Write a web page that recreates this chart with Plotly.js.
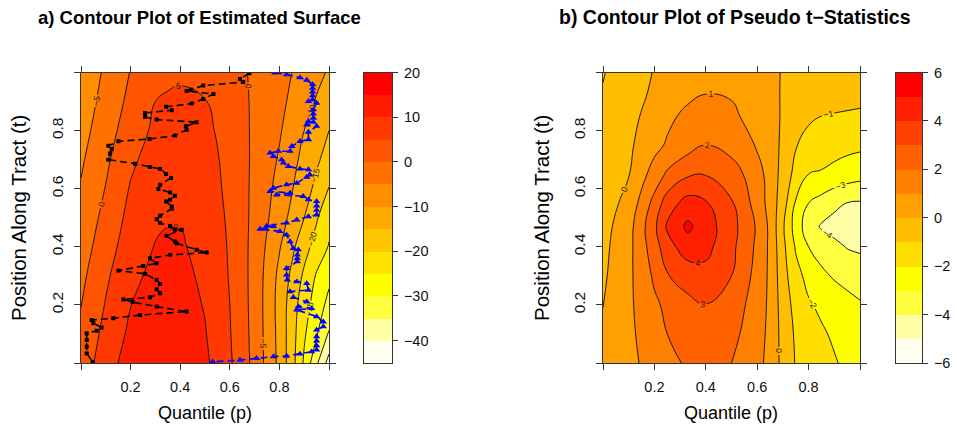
<!DOCTYPE html>
<html><head><meta charset="utf-8">
<script src="https://cdn.plot.ly/plotly-3.0.1.min.js"></script>
<style>html,body{margin:0;padding:0;background:#fff}#chart{width:957px;height:433px}</style>
</head><body><div id="chart"></div>
<script>
// ---------- Panel a) estimated surface ----------
const pA = [0, 0.1, 0.2, 0.3, 0.35, 0.4, 0.5, 0.6, 0.7, 0.8, 0.85, 0.9, 0.95, 1.0];
const tA = [0, 0.1, 0.2, 0.3, 0.4, 0.5, 0.6, 0.7, 0.8, 0.9, 1.0];
const zA = [
  [2.0, 7.8, 12.3, 14.3, 14.4, 13.8, 11.0, 5.7, -1.4, -11.3, -17.9, -25.8, -34.2, -42.0],
  [1.0, 6.5, 11.0, 13.1, 13.3, 12.9, 10.3, 5.3, -1.6, -11.5, -17.8, -24.3, -29.5, -35.5],
  [-0.1, 5.3, 9.9, 12.2, 12.5, 12.1, 9.7, 5.0, -1.7, -11.7, -17.4, -22.9, -27.3, -31.5],
  [-1.2, 4.2, 8.8, 11.2, 11.5, 11.3, 9.1, 4.7, -1.7, -11.2, -16.0, -20.9, -25.5, -28.8],
  [-2.4, 2.8, 7.6, 10.2, 10.6, 10.5, 8.6, 4.5, -1.6, -9.6, -13.8, -18.2, -22.0, -25.3],
  [-3.5, 1.5, 6.5, 9.2, 9.7, 9.7, 8.1, 4.2, -1.3, -7.7, -11.3, -15.0, -19.5, -23.6],
  [-4.6, 0.2, 5.4, 8.3, 8.9, 9.0, 7.5, 3.8, -1.1, -6.6, -9.7, -12.8, -16.3, -20.2],
  [-5.7, -0.9, 4.0, 7.3, 8.0, 8.2, 7.0, 3.5, -0.9, -5.5, -8.5, -11.4, -14.2, -17.0],
  [-6.9, -2.0, 2.4, 6.0, 6.9, 7.2, 6.2, 3.0, -0.8, -4.5, -7.2, -10.0, -12.5, -15.0],
  [-8.0, -3.1, 1.2, 5.0, 5.9, 6.2, 5.2, 2.4, -0.7, -3.9, -5.8, -8.1, -10.4, -12.2],
  [-9.0, -4.1, 0.2, 2.5, 3.4, 4.0, 3.3, 1.5, -0.6, -3.4, -5.0, -6.9, -8.7, -10.5]
];
const levelsA = [-45, -40, -35, -30, -25, -20, -15, -10, -5, 0, 5, 10, 15, 20];
const colorsA = ['#FFFFF0', '#FFFFA8', '#FFFF40', '#FFFF00', '#FFE300', '#FFC600', '#FFAA00',
                 '#FF8E00', '#FF7100', '#FF5500', '#FF3900', '#FF1C00', '#FF0000'];
const keyTicksA = [20, 10, 0, -10, -20, -30, -40];

// black path (squares) and blue path (triangles)
const blackP = [0.679, 0.641, 0.654, 0.493, 0.444, 0.426, 0.534, 0.493, 0.446, 0.343, 0.366, 0.258, 0.258, 0.305, 0.466, 0.423, 0.426, 0.379, 0.276, 0.151, 0.110, 0.124, 0.117, 0.110, 0.218, 0.278, 0.319, 0.343, 0.363, 0.319, 0.312, 0.359, 0.379, 0.359, 0.343, 0.366, 0.366, 0.319, 0.305, 0.319, 0.359, 0.379, 0.406, 0.345, 0.379, 0.386, 0.466, 0.507, 0.359, 0.278, 0.305, 0.251, 0.151, 0.258, 0.305, 0.319, 0.305, 0.319, 0.278, 0.171, 0.208, 0.305, 0.426, 0.238, 0.130, 0.043, 0.050, 0.083, 0.063, 0.023, 0.023, 0.023, 0.023, 0.047];
const blackT = [0.997, 0.978, 0.967, 0.955, 0.941, 0.936, 0.926, 0.909, 0.893, 0.882, 0.870, 0.861, 0.847, 0.838, 0.829, 0.815, 0.803, 0.783, 0.771, 0.763, 0.748, 0.737, 0.721, 0.700, 0.686, 0.675, 0.668, 0.651, 0.637, 0.614, 0.599, 0.587, 0.576, 0.562, 0.556, 0.539, 0.531, 0.507, 0.495, 0.482, 0.472, 0.459, 0.459, 0.438, 0.418, 0.412, 0.390, 0.380, 0.372, 0.360, 0.343, 0.334, 0.318, 0.307, 0.286, 0.272, 0.254, 0.240, 0.226, 0.219, 0.210, 0.194, 0.177, 0.165, 0.154, 0.148, 0.137, 0.122, 0.111, 0.102, 0.079, 0.056, 0.033, 0.004];
const blueP = [0.782, 0.829, 0.883, 0.910, 0.934, 0.934, 0.934, 0.934, 0.934, 0.917, 0.950, 0.937, 0.937, 0.937, 0.917, 0.937, 0.910, 0.950, 0.917, 0.917, 0.883, 0.850, 0.843, 0.796, 0.762, 0.776, 0.809, 0.816, 0.836, 0.883, 0.917, 0.923, 0.910, 0.870, 0.829, 0.776, 0.762, 0.843, 0.789, 0.896, 0.917, 0.950, 0.950, 0.950, 0.950, 0.917, 0.870, 0.829, 0.749, 0.776, 0.722, 0.802, 0.829, 0.843, 0.856, 0.876, 0.872, 0.872, 0.872, 0.829, 0.829, 0.832, 0.870, 0.910, 0.917, 0.843, 0.856, 0.910, 0.876, 0.930, 0.870, 0.950, 0.977, 0.977, 0.950, 0.950, 0.950, 0.950, 0.950, 0.930, 0.883, 0.829, 0.776, 0.708, 0.641, 0.531];
const blueT = [0.999, 0.993, 0.982, 0.974, 0.959, 0.946, 0.933, 0.920, 0.907, 0.901, 0.895, 0.872, 0.858, 0.843, 0.832, 0.829, 0.820, 0.815, 0.795, 0.769, 0.763, 0.746, 0.729, 0.729, 0.723, 0.711, 0.700, 0.689, 0.677, 0.668, 0.666, 0.648, 0.640, 0.619, 0.614, 0.602, 0.591, 0.585, 0.579, 0.574, 0.562, 0.556, 0.541, 0.526, 0.510, 0.504, 0.493, 0.482, 0.472, 0.470, 0.461, 0.453, 0.441, 0.418, 0.395, 0.390, 0.372, 0.360, 0.349, 0.326, 0.303, 0.286, 0.280, 0.274, 0.251, 0.246, 0.226, 0.211, 0.194, 0.188, 0.183, 0.160, 0.142, 0.125, 0.114, 0.091, 0.076, 0.060, 0.045, 0.039, 0.031, 0.024, 0.022, 0.016, 0.010, 0.004];

// ---------- Panel b) pseudo t-statistics ----------
const pB = [0, 0.1, 0.2, 0.25, 0.33, 0.4, 0.5, 0.6, 0.65, 0.7, 0.75, 0.8, 0.85, 0.9, 0.95, 1.0];
const tB = [0, 0.1, 0.2, 0.3, 0.4, 0.47, 0.55, 0.65, 0.75, 0.85, 0.93, 1.0];
const zB = [
  [0.35, 0.78, 1.33, 1.67, 2.15, 2.5, 2.0, 1.27, 0.71, -0.31, -1.06, -1.34, -1.63, -1.91, -2.2, -2.4],
  [0.2, 0.79, 1.57, 2.0, 2.5, 2.75, 2.3, 1.38, 0.77, -0.36, -1.14, -1.5, -1.86, -2.15, -2.45, -2.7],
  [-0.02, 0.8, 1.83, 2.2, 2.75, 2.98, 2.55, 1.53, 0.79, -0.46, -1.33, -1.89, -2.2, -2.45, -2.7, -2.9],
  [-0.15, 0.77, 2.16, 2.94, 3.4, 3.68, 3.0, 1.67, 0.8, -0.6, -1.67, -2.3, -2.8, -3.1, -3.3, -3.5],
  [-0.25, 0.7, 2.55, 3.6, 4.55, 4.3, 3.25, 1.8, 0.8, -0.74, -2.1, -3.0, -3.4, -3.75, -4.05, -4.15],
  [-0.35, 0.61, 2.77, 4.14, 5.2, 4.46, 3.36, 1.87, 0.78, -0.86, -2.43, -3.55, -4.1, -4.35, -4.6, -4.75],
  [-0.45, 0.29, 2.33, 3.5, 4.4, 4.1, 3.1, 1.6, 0.62, -0.55, -2.1, -3.0, -3.38, -3.77, -4.03, -4.1],
  [-0.6, -0.04, 1.42, 2.15, 2.85, 2.95, 2.45, 1.45, 0.55, -0.32, -1.33, -2.0, -2.1, -2.3, -2.5, -2.65],
  [-0.7, -0.17, 0.7, 1.12, 1.6, 2.0, 1.65, 0.9, 0.4, -0.17, -0.95, -1.25, -1.45, -1.6, -1.72, -1.8],
  [-0.8, -0.28, 0.37, 0.76, 1.25, 1.48, 1.2, 0.58, 0.26, -0.08, -0.5, -0.88, -1.0, -1.04, -1.07, -1.1],
  [-0.95, -0.4, 0.15, 0.4, 0.75, 0.97, 0.9, 0.5, 0.22, -0.07, -0.35, -0.55, -0.66, -0.73, -0.77, -0.8],
  [-1.05, -0.5, 0.05, 0.3, 0.55, 0.72, 0.7, 0.4, 0.18, -0.05, -0.28, -0.45, -0.55, -0.6, -0.63, -0.65]
];
const levelsB = [-6, -5, -4, -3, -2, -1, 0, 1, 2, 3, 4, 5, 6];
const colorsB = ['#FFFFF0', '#FFFFA8', '#FFFF40', '#FFFF00', '#FFDF00', '#FFBF00',
                 '#FF9F00', '#FF8000', '#FF6000', '#FF4000', '#FF2000', '#FF0000'];
const keyTicksB = [6, 4, 2, 0, -2, -4, -6];

const axisTickVals = [0, 0.2, 0.4, 0.6, 0.8, 1.0];
const axisTickText = ['', '0.2', '0.4', '0.6', '0.8', ''];

const titleA = 'a) Contour Plot of Estimated Surface';
const titleB = 'b) Contour Plot of Pseudo t\u2212Statistics';
const xLabel = 'Quantile (p)';
const yLabel = 'Position Along Tract (t)';

// ---------- helpers ----------
const FONT = 'Liberation Sans, Arial, Helvetica, sans-serif';
const W = 957, H = 433;
const fx = v => v / W;
const fy = v => 1 - v / H;

function discreteScale(colors) {
  const n = colors.length, out = [];
  colors.forEach((c, i) => { out.push([i / n, c]); out.push([(i + 1) / n, c]); });
  return out;
}
function mids(levels) {
  const m = [];
  for (let i = 0; i < levels.length - 1; i++) m.push([(levels[i] + levels[i + 1]) / 2]);
  return m;
}
function contourTrace(x, y, z, levels, colors, xa, ya) {
  return {
    type: 'contour', x: x, y: y, z: z, xaxis: xa, yaxis: ya,
    autocontour: false,
    contours: { start: levels[1], end: levels[levels.length - 1], size: levels[1] - levels[0],
      coloring: 'fill', showlines: true, showlabels: true,
      labelfont: { size: 8.5, color: '#222', family: FONT } },
    line: { color: '#1a1a1a', width: 1, smoothing: 1.3 },
    colorscale: discreteScale(colors), showscale: false, hoverinfo: 'skip'
  };
}
function keyTrace(levels, colors, xa, ya) {
  return {
    type: 'heatmap', x: [0, 1], y: levels, z: mids(levels), xaxis: xa, yaxis: ya,
    zmin: levels[0], zmax: levels[levels.length - 1],
    colorscale: discreteScale(colors), showscale: false, hoverinfo: 'skip'
  };
}

const data = [
  contourTrace(pA, tA, zA, levelsA, colorsA, 'x', 'y'),
  { type: 'scatter', x: blackP, y: blackT, xaxis: 'x', yaxis: 'y', mode: 'lines+markers',
    line: { color: '#000', width: 1.6, dash: '7px,4px' },
    marker: { symbol: 'square', size: 4, color: '#000' }, hoverinfo: 'skip', cliponaxis: true },
  { type: 'scatter', x: blueP, y: blueT, xaxis: 'x', yaxis: 'y', mode: 'lines+markers',
    line: { color: '#0000FF', width: 1.6, dash: '7px,4px' },
    marker: { symbol: 'triangle-up', size: 6.5, color: '#0000FF' }, hoverinfo: 'skip', cliponaxis: true },
  keyTrace(levelsA, colorsA, 'x3', 'y3'),
  contourTrace(pB, tB, zB, levelsB, colorsB, 'x2', 'y2'),
  keyTrace(levelsB, colorsB, 'x4', 'y4')
];

const yDom = [fy(363), fy(72.5)];
function plotX(dom, anchor) {
  return { domain: dom, anchor: anchor, range: [0, 1], tickvals: axisTickVals, ticktext: axisTickText,
    ticks: 'outside', ticklen: 6, tickwidth: 1, tickcolor: '#333', showline: true, linecolor: '#333',
    linewidth: 1, mirror: 'ticks', showgrid: false, zeroline: false, ticklabelstandoff: 5,
    tickfont: { family: FONT, size: 14.5, color: '#111' } };
}
function plotY(anchor) {
  return { domain: yDom, anchor: anchor, range: [0, 1], tickvals: axisTickVals, ticktext: axisTickText,
    ticks: 'outside', ticklen: 6, tickwidth: 1, tickcolor: '#333', showline: true, linecolor: '#333',
    linewidth: 1, mirror: 'ticks', showgrid: false, zeroline: false, tickangle: -90, ticklabelstandoff: 5,
    tickfont: { family: FONT, size: 15.5, color: '#111' } };
}
function keyX(dom, anchor) {
  return { domain: dom, anchor: anchor, range: [0, 1], showticklabels: false, ticks: '',
    showline: true, linecolor: '#333', linewidth: 1, mirror: true, showgrid: false, zeroline: false };
}
function keyY(levels, ticks, anchor) {
  return { domain: yDom, anchor: anchor, side: 'right', range: [levels[0], levels[levels.length - 1]],
    tickvals: ticks, ticks: 'outside', ticklen: 5, tickcolor: '#333', showline: true, linecolor: '#333',
    linewidth: 1, mirror: true, showgrid: false, zeroline: false, ticklabelstandoff: 3,
    tickfont: { family: FONT, size: 14.5, color: '#111' } };
}

function ann(text, x, y, size, bold, angle) {
  return { text: bold ? '<b>' + text + '</b>' : text, xref: 'paper', yref: 'paper', x: fx(x), y: fy(y),
    xanchor: 'center', yanchor: 'middle', showarrow: false, textangle: angle || 0,
    font: { family: FONT, size: size, color: '#000' } };
}

const layout = {
  width: W, height: H, margin: { l: 0, r: 0, t: 0, b: 0 },
  paper_bgcolor: '#fff', plot_bgcolor: '#fff', showlegend: false,
  xaxis: plotX([fx(81), fx(329)], 'y'),
  yaxis: plotY('x'),
  xaxis2: plotX([fx(603), fx(860)], 'y2'),
  yaxis2: plotY('x2'),
  xaxis3: keyX([fx(364), fx(392)], 'y3'),
  yaxis3: keyY(levelsA, keyTicksA, 'x3'),
  xaxis4: keyX([fx(896), fx(922)], 'y4'),
  yaxis4: keyY(levelsB, keyTicksB, 'x4'),
  annotations: [
    ann(titleA, 199, 17, 18.5, true),
    ann(titleB, 735, 17, 19.5, true),
    ann(xLabel, 205, 413, 18, false),
    ann(xLabel, 731, 413, 18, false),
    ann(yLabel, 18, 218, 20.5, false, -90),
    ann(yLabel, 541, 218, 20.5, false, -90)
  ]
};

Plotly.newPlot('chart', data, layout, { staticPlot: true, displayModeBar: false });
</script>
</body></html>
